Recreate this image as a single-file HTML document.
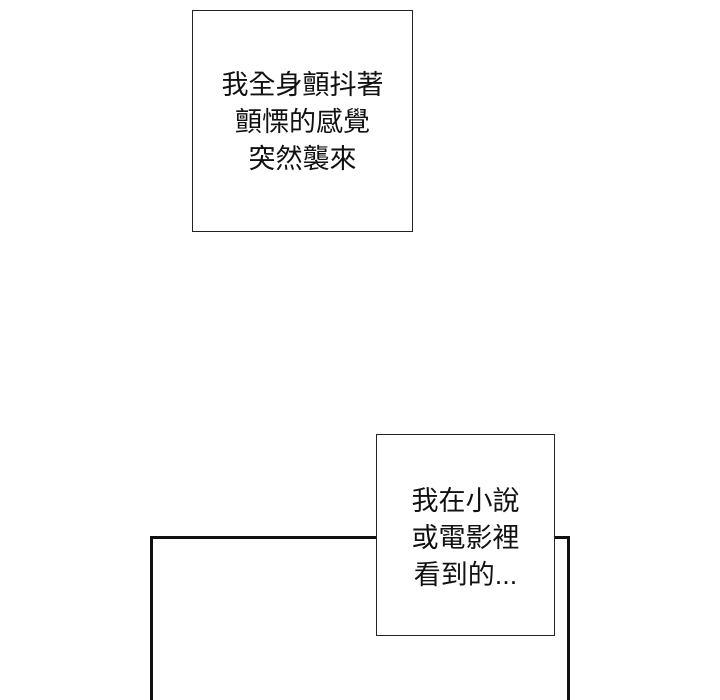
<!DOCTYPE html>
<html><head><meta charset="utf-8"><style>
html,body{margin:0;width:720px;height:700px;overflow:hidden;}
body{background:#fff;position:relative;font-family:"Liberation Sans","Noto Sans CJK TC",sans-serif;}
.b{position:absolute;background:#fff;box-sizing:border-box;border:1.5px solid #222;display:flex;align-items:center;justify-content:center;text-align:center;font-size:27px;line-height:37px;color:#111;}
</style></head><body>
<div style="position:absolute;left:150px;top:536px;width:420px;height:164px;border:3px solid #111;border-bottom:none;box-sizing:border-box"></div>
<div class="b" style="left:192px;top:10px;width:221px;height:222px;padding-top:2px">我全身顫抖著<br>顫慄的感覺<br>突然襲來</div>
<div class="b" style="left:376px;top:434px;width:179px;height:202px;padding-top:6px">我在小說<br>或電影裡<br>看到的...</div>
</body></html>
